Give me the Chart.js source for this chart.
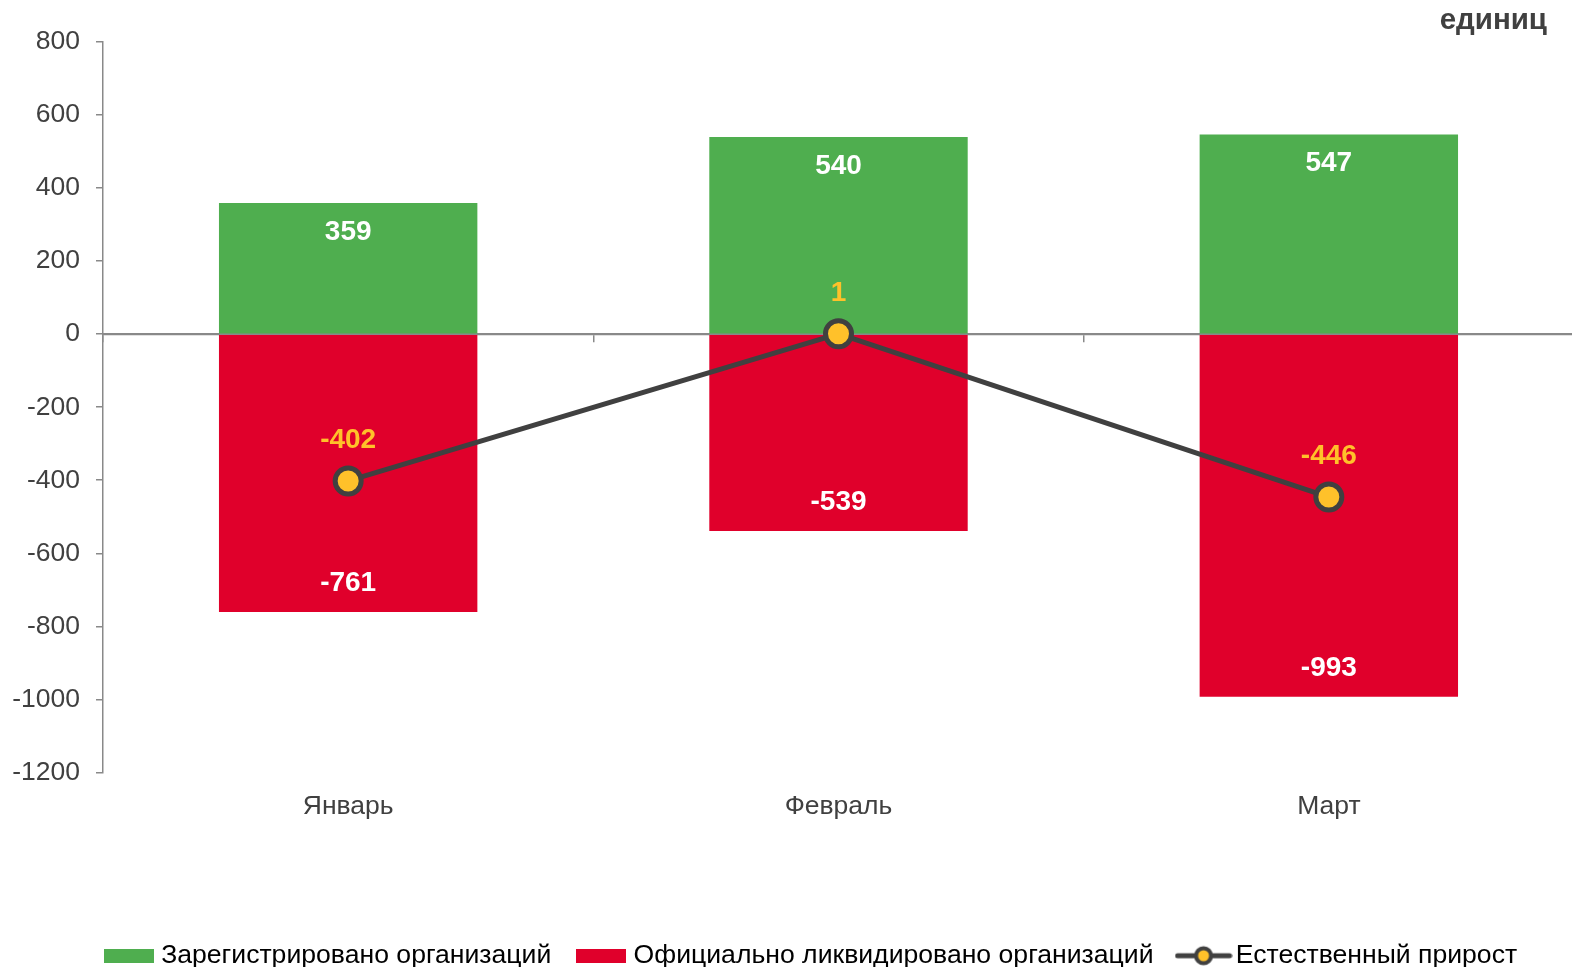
<!DOCTYPE html>
<html><head><meta charset="utf-8">
<script src="https://cdn.jsdelivr.net/npm/chart.js@4/dist/chart.umd.min.js"></script>
<style>html,body{margin:0;padding:0;overflow:hidden;background:#fff}#wrap{width:1574px;height:979px;position:relative}</style>
</head><body><div id="wrap"><canvas id="c"></canvas></div>
<script>
const categories = ['Январь', 'Февраль', 'Март'];
const registered = [359, 540, 547];
const liquidated = [-761, -539, -993];
const naturalGrowth = [-402, 1, -446];
const seriesNames = ['Зарегистрировано организаций', 'Официально ликвидировано организаций', 'Естественный прирост'];
const yMin = -1200, yMax = 800, yStep = 200;
const unitLabel = 'единиц';

const GREEN = '#4fae4f', RED = '#e0002b', YELLOW = '#ffc12a', DARK = '#404040', AXIS = '#898989';
const FONT = "'Liberation Sans', Arial, sans-serif";

function makeRectMarker(color) {
  const c = document.createElement('canvas');
  c.width = 50; c.height = 14;
  const g = c.getContext('2d');
  g.fillStyle = color; g.fillRect(0, 0, 50, 14);
  return c;
}
const lineMarker = document.createElement('canvas');
lineMarker.width = 58; lineMarker.height = 22;
(function(){
  const g = lineMarker.getContext('2d');
  g.strokeStyle = DARK; g.lineWidth = 5; g.lineCap = 'round';
  g.beginPath(); g.moveTo(3, 11); g.lineTo(55, 11); g.stroke();
  g.beginPath(); g.arc(29, 11, 7.5, 0, Math.PI * 2); g.fillStyle = YELLOW; g.fill();
  g.lineWidth = 4; g.stroke();
})();
const legendMarkers = [makeRectMarker(GREEN), makeRectMarker(RED), lineMarker];

const labelPlugin = {
  id: 'valueLabels',
  afterLayout(chart) {
    if (chart.legend) { chart.legend.left += 16; chart.legend.right += 16; }
  },
  afterDatasetsDraw(chart) {
    const ctx = chart.ctx;
    ctx.save();
    ctx.font = "bold 28px " + FONT;
    ctx.textAlign = 'center';
    ctx.textBaseline = 'middle';
    chart.data.datasets.forEach((ds, di) => {
      const meta = chart.getDatasetMeta(di);
      meta.data.forEach((el, i) => {
        const v = ds.data[i];
        if (ds.type === 'line') {
          ctx.fillStyle = YELLOW;
          ctx.fillText(String(v), el.x, el.y - 41);
        } else {
          ctx.fillStyle = '#ffffff';
          ctx.fillText(String(v), el.x, v >= 0 ? el.y + 29 : el.y - 29);
        }
      });
    });
    ctx.restore();
  },
  afterDraw(chart) {
    const ctx = chart.ctx;
    ctx.save();
    ctx.font = "bold 29.5px " + FONT;
    ctx.fillStyle = DARK;
    ctx.textAlign = 'right';
    ctx.textBaseline = 'middle';
    ctx.fillText(unitLabel, 1547, 21);
    ctx.restore();
  }
};

new Chart(document.getElementById('c'), {
  data: {
    labels: categories,
    datasets: [
      { type: 'bar', label: seriesNames[0], data: registered, backgroundColor: GREEN, grouped: false,
        barPercentage: 0.527, categoryPercentage: 1, order: 2 },
      { type: 'bar', label: seriesNames[1], data: liquidated, backgroundColor: RED, grouped: false,
        barPercentage: 0.527, categoryPercentage: 1, order: 2 },
      { type: 'line', label: seriesNames[2], data: naturalGrowth, borderColor: DARK, borderWidth: 5,
        pointRadius: 13, pointHoverRadius: 13, pointBorderWidth: 5, pointBackgroundColor: YELLOW,
        pointBorderColor: DARK, pointStyle: 'circle', order: 0, tension: 0, clip: false }
    ]
  },
  options: {
    responsive: true, maintainAspectRatio: false, animation: false,
    layout: { autoPadding: false, padding: { top: 42, left: 13, right: -8, bottom: 0 } },
    scales: {
      x: {
        type: 'category', position: 'bottom', offset: true,
        grid: { display: false }, border: { display: false },
        ticks: { color: DARK, font: { family: FONT, size: 26.5 }, padding: 10 },
        afterFit(s) { s.height = 139; }
      },
      x2: {
        type: 'category', position: { y: 0 }, offset: true,
        grid: { drawOnChartArea: false, offset: true, tickLength: 7, color: AXIS, lineWidth: 1.5 },
        border: { color: AXIS, width: 2.3 },
        ticks: { display: false }
      },
      y: {
        min: yMin, max: yMax,
        ticks: { stepSize: yStep, color: DARK, font: { family: FONT, size: 26.5 }, padding: 16,
          callback: (v) => String(v) },
        grid: { drawOnChartArea: false, tickLength: 7, color: AXIS, lineWidth: 1.5 },
        border: { color: AXIS, width: 1.5 },
        afterFit(s) { s.width = 90; }
      }
    },
    plugins: {
      tooltip: { enabled: false },
      legend: {
        position: 'bottom',
        labels: {
          usePointStyle: true, pointStyleWidth: 38, boxHeight: 14, padding: 31,
          color: '#000', font: { family: FONT, size: 26.6 },
          sort: (a, b) => a.datasetIndex - b.datasetIndex,
          generateLabels(chart) {
            const items = Chart.defaults.plugins.legend.labels.generateLabels(chart);
            items.forEach(it => { it.pointStyle = legendMarkers[it.datasetIndex]; });
            return items;
          }
        }
      }
    }
  },
  plugins: [labelPlugin]
});
</script></body></html>
